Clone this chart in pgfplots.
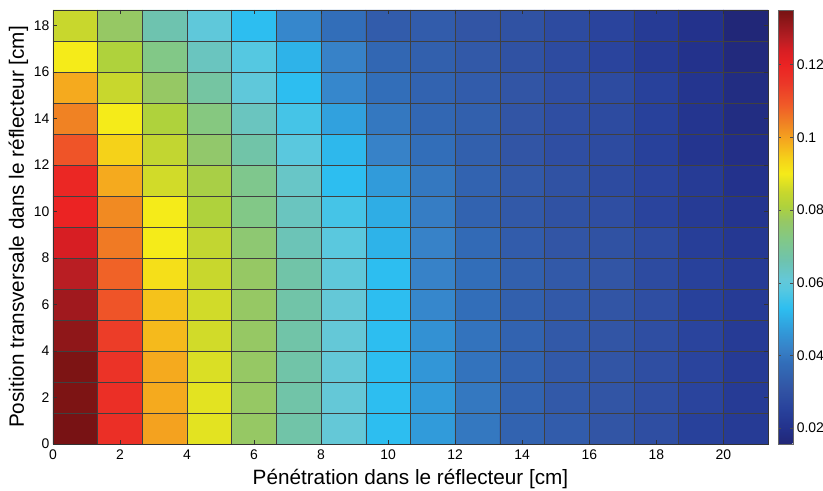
\documentclass[border=0pt]{standalone}
\usepackage{fontspec}
\setmainfont{Liberation Sans}
\usepackage{pgfplots}
\usepackage{pgfplotstable}
\pgfplotsset{compat=1.18}
\pgfplotstableread{
x y c
0.667 0.667 0.135
2.000 0.667 0.117
3.333 0.667 0.100
4.667 0.667 0.088
6.000 0.667 0.077
7.333 0.667 0.067
8.667 0.667 0.061
10.000 0.667 0.053
11.333 0.667 0.047
12.667 0.667 0.040
14.000 0.667 0.035
15.333 0.667 0.033
16.667 0.667 0.031
18.000 0.667 0.029
19.333 0.667 0.025
20.667 0.667 0.023
0.667 2.000 0.134
2.000 2.000 0.117
3.333 2.000 0.099
4.667 2.000 0.088
6.000 2.000 0.077
7.333 2.000 0.067
8.667 2.000 0.061
10.000 2.000 0.053
11.333 2.000 0.047
12.667 2.000 0.040
14.000 2.000 0.035
15.333 2.000 0.032
16.667 2.000 0.031
18.000 2.000 0.029
19.333 2.000 0.026
20.667 2.000 0.023
0.667 3.333 0.134
2.000 3.333 0.116
3.333 3.333 0.099
4.667 3.333 0.087
6.000 3.333 0.077
7.333 3.333 0.067
8.667 3.333 0.061
10.000 3.333 0.053
11.333 3.333 0.046
12.667 3.333 0.039
14.000 3.333 0.035
15.333 3.333 0.032
16.667 3.333 0.031
18.000 3.333 0.029
19.333 3.333 0.026
20.667 3.333 0.023
0.667 4.667 0.132
2.000 4.667 0.114
3.333 4.667 0.097
4.667 4.667 0.086
6.000 4.667 0.077
7.333 4.667 0.067
8.667 4.667 0.061
10.000 4.667 0.053
11.333 4.667 0.045
12.667 4.667 0.039
14.000 4.667 0.035
15.333 4.667 0.032
16.667 4.667 0.031
18.000 4.667 0.029
19.333 4.667 0.026
20.667 4.667 0.023
0.667 6.000 0.130
2.000 6.000 0.110
3.333 6.000 0.096
4.667 6.000 0.086
6.000 6.000 0.077
7.333 6.000 0.067
8.667 6.000 0.061
10.000 6.000 0.053
11.333 6.000 0.043
12.667 6.000 0.038
14.000 6.000 0.034
15.333 6.000 0.032
16.667 6.000 0.031
18.000 6.000 0.029
19.333 6.000 0.025
20.667 6.000 0.023
0.667 7.333 0.127
2.000 7.333 0.108
3.333 7.333 0.092
4.667 7.333 0.085
6.000 7.333 0.077
7.333 7.333 0.067
8.667 7.333 0.060
10.000 7.333 0.053
11.333 7.333 0.042
12.667 7.333 0.038
14.000 7.333 0.034
15.333 7.333 0.032
16.667 7.333 0.031
18.000 7.333 0.028
19.333 7.333 0.025
20.667 7.333 0.023
0.667 8.667 0.124
2.000 8.667 0.105
3.333 8.667 0.090
4.667 8.667 0.084
6.000 8.667 0.075
7.333 8.667 0.065
8.667 8.667 0.059
10.000 8.667 0.051
11.333 8.667 0.042
12.667 8.667 0.037
14.000 8.667 0.033
15.333 8.667 0.031
16.667 8.667 0.030
18.000 8.667 0.028
19.333 8.667 0.024
20.667 8.667 0.022
0.667 10.000 0.120
2.000 10.000 0.103
3.333 10.000 0.090
4.667 10.000 0.081
6.000 10.000 0.072
7.333 10.000 0.064
8.667 10.000 0.056
10.000 10.000 0.050
11.333 10.000 0.041
12.667 10.000 0.035
14.000 10.000 0.032
15.333 10.000 0.030
16.667 10.000 0.029
18.000 10.000 0.026
19.333 10.000 0.023
20.667 10.000 0.021
0.667 11.333 0.119
2.000 11.333 0.099
3.333 11.333 0.086
4.667 11.333 0.080
6.000 11.333 0.071
7.333 11.333 0.063
8.667 11.333 0.053
10.000 11.333 0.047
11.333 11.333 0.040
12.667 11.333 0.035
14.000 11.333 0.032
15.333 11.333 0.030
16.667 11.333 0.028
18.000 11.333 0.026
19.333 11.333 0.023
20.667 11.333 0.020
0.667 12.667 0.110
2.000 12.667 0.094
3.333 12.667 0.084
4.667 12.667 0.076
6.000 12.667 0.067
7.333 12.667 0.059
8.667 12.667 0.052
10.000 12.667 0.042
11.333 12.667 0.038
12.667 12.667 0.034
14.000 12.667 0.031
15.333 12.667 0.029
16.667 12.667 0.028
18.000 12.667 0.025
19.333 12.667 0.021
20.667 12.667 0.019
0.667 14.000 0.104
2.000 14.000 0.090
3.333 14.000 0.081
4.667 14.000 0.073
6.000 14.000 0.064
7.333 14.000 0.056
8.667 14.000 0.048
10.000 14.000 0.040
11.333 14.000 0.036
12.667 14.000 0.034
14.000 14.000 0.031
15.333 14.000 0.029
16.667 14.000 0.028
18.000 14.000 0.025
19.333 14.000 0.021
20.667 14.000 0.018
0.667 15.333 0.099
2.000 15.333 0.085
3.333 15.333 0.077
4.667 15.333 0.068
6.000 15.333 0.060
7.333 15.333 0.053
8.667 15.333 0.043
10.000 15.333 0.038
11.333 15.333 0.035
12.667 15.333 0.033
14.000 15.333 0.031
15.333 15.333 0.029
16.667 15.333 0.028
18.000 15.333 0.025
19.333 15.333 0.021
20.667 15.333 0.018
0.667 16.667 0.090
2.000 16.667 0.081
3.333 16.667 0.072
4.667 16.667 0.064
6.000 16.667 0.058
7.333 16.667 0.051
8.667 16.667 0.042
10.000 16.667 0.036
11.333 16.667 0.034
12.667 16.667 0.032
14.000 16.667 0.030
15.333 16.667 0.028
16.667 16.667 0.026
18.000 16.667 0.023
19.333 16.667 0.020
20.667 16.667 0.017
0.667 18.000 0.085
2.000 18.000 0.077
3.333 18.000 0.066
4.667 18.000 0.060
6.000 18.000 0.053
7.333 18.000 0.043
8.667 18.000 0.038
10.000 18.000 0.033
11.333 18.000 0.033
12.667 18.000 0.031
14.000 18.000 0.030
15.333 18.000 0.028
16.667 18.000 0.026
18.000 18.000 0.023
19.333 18.000 0.020
20.667 18.000 0.016
}\datatable
\begin{document}
\begin{tikzpicture}
\begin{axis}[
  name=main,
  scale only axis,
  width=715bp, height=434bp,
  xmin=0, xmax=21.3333, ymin=0, ymax=18.6667,
  xtick={0,2,...,20}, ytick={0,2,...,18},
  tick align=inside,
  major tick length=4bp,
  tick style={black!80, line width=0.5bp},
  minor xtick={1.3333,2.6667,4,5.3333,6.6667,8,9.3333,10.6667,12,13.3333,14.6667,16,17.3333,18.6667,20},
  minor ytick={1.3333,2.6667,4,5.3333,6.6667,8,9.3333,10.6667,12,13.3333,14.6667,16,17.3333},
  minor tick length=0pt,
  xminorgrids, yminorgrids,
  minor grid style={black!75, line width=0.6bp},
  axis on top,
  axis line style={black!80, line width=0.6bp},
  /pgf/number format/assume math mode=true,
  tick label style={font=\fontsize{14}{14}\selectfont},
  xticklabel style={yshift=-2bp},
  label style={font=\fontsize{20.8}{21}\selectfont},
  xlabel={Pénétration dans le réflecteur [cm]},
  ylabel={Position transversale dans le réflecteur [cm]},
  xlabel style={yshift=-3bp},
  ylabel style={yshift=-1bp},
  colormap={softjet}{
    rgb255(0)=(33,38,118);
    rgb255(37)=(35,50,140);
    rgb255(79)=(40,65,155);
    rgb255(129)=(50,85,165);
    rgb255(188)=(50,110,185);
    rgb255(221)=(55,130,200);
    rgb255(255)=(50,150,215);
    rgb255(313)=(45,190,240);
    rgb255(355)=(85,200,225);
    rgb255(380)=(100,200,215);
    rgb255(422)=(110,195,175);
    rgb255(472)=(130,200,135);
    rgb255(514)=(150,200,100);
    rgb255(548)=(175,210,60);
    rgb255(581)=(200,215,45);
    rgb255(623)=(245,235,25);
    rgb255(657)=(245,210,25);
    rgb255(698)=(245,170,30);
    rgb255(740)=(240,130,35);
    rgb255(782)=(240,90,40);
    rgb255(832)=(235,55,40);
    rgb255(874)=(235,35,35);
    rgb255(908)=(215,30,35);
    rgb255(933)=(185,30,35);
    rgb255(958)=(160,25,30);
    rgb255(992)=(125,20,20);
    rgb255(1000)=(120,18,20)
  },
  point meta min=0.0156, point meta max=0.135,
  colorbar,
  colorbar shift/.style={xshift=10bp},
  colorbar style={
    width=15bp,
    ytick={0.02,0.04,0.06,0.08,0.1,0.12},
    scaled y ticks=false,
    /pgf/number format/assume math mode=true,
    yticklabel style={/pgf/number format/fixed, /pgf/number format/precision=2, font=\fontsize{14}{14}\selectfont},
    tick align=inside,
    major tick length=3bp,
    tick style={black!70},
    axis line style={black!60},
  },
]
\addplot[matrix plot*, mesh/cols=16, point meta=explicit] table[meta=c] {\datatable};
\end{axis}
\pgfresetboundingbox
\path ([xshift=-53bp,yshift=-47bp]main.south west) rectangle ([xshift=55bp,yshift=10bp]main.north east);
\end{tikzpicture}
\end{document}
